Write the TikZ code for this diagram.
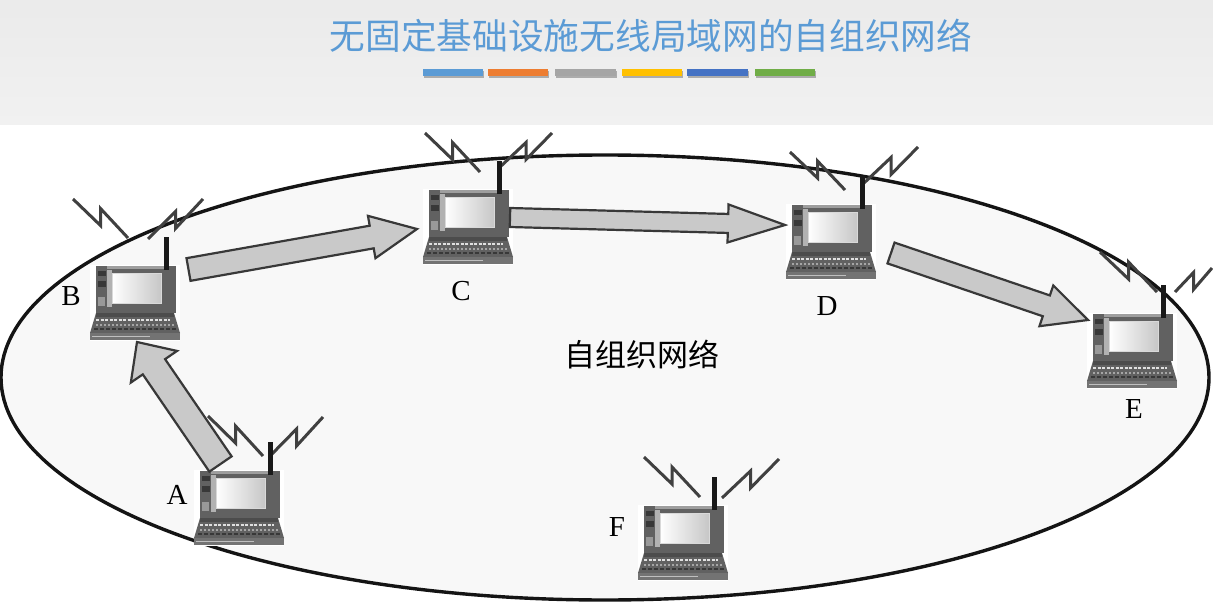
\documentclass[tikz,border=0pt]{standalone}
\usepackage{fontspec}
\setmainfont{Liberation Serif}
\newfontfamily\cjkfont{Noto Sans CJK SC}
\usetikzlibrary{calc}
\definecolor{titleblue}{HTML}{5B9BD5}
\definecolor{barorange}{HTML}{ED7D31}
\definecolor{bargray}{HTML}{A5A5A5}
\definecolor{baryellow}{HTML}{FFC000}
\definecolor{bardeep}{HTML}{4472C4}
\definecolor{bargreen}{HTML}{70AD47}
\definecolor{netfill}{HTML}{F8F8F8}
\tikzset{
  lapnode/.style={rectangle,fill=white,inner sep=0pt,outer sep=0pt,minimum width=90pt,minimum height=76pt,anchor=north west},
  zig/.style={draw=black!75,line width=3pt,line join=miter},
  antenna/.style={draw=black!90,line width=5pt},
  blockarrow/.style={draw=black!78,fill=black!21,line width=2.2pt,line join=miter},
  barshadow/.style={fill=black!50,opacity=.6},
  letter/.style={font=\fontsize{29}{30}\selectfont,inner sep=0pt},
  netshape/.style={draw=black!92,fill=netfill,line width=3.4pt},
}
\newcommand\laptop[6]{%
  \node[lapnode] (#1) at #2 {};
  \begin{scope}[shift={(#1.north west)}]
    \fill[black!62] (6,1) rectangle (86,48);
    \fill[black!62] (6,48) -- (84,48) -- (90,68) -- (0,68) -- cycle;
    \fill[black!70] (6,48) rectangle (84,52);
    \fill[black!55] (0,68) rectangle (90,75);
    \fill[black!25] (2,71) rectangle (60,72);
    \fill[black!78] (8,6) rectangle (16,11);
    \fill[black!78] (8,16) rectangle (16,22);
    \fill[black!40] (8,32) rectangle (15,41);
    \fill[black!30] (17,5) rectangle (22,42);
    \fill[black!38] (17,1) rectangle (75,4);
    \shade[left color=white,right color=black!22,draw=black!15] (22,8) rectangle (71,38);
    \draw[black!12,line width=1.6pt,dash pattern=on 3pt off 1.5pt] (6,55) -- (80,55);
    \draw[black!35,line width=1.3pt,dash pattern=on 2pt off 2pt] (6,60) -- (84,60);
    \draw[black!78,line width=1.3pt,dash pattern=on 4pt off 2pt] (4,64) -- (86,64);
    \draw[zig] #3 -- ($#3!.5!#4+(0,7)$) -- ($#3!.5!#4+(0,-10)$) -- #4;
    \draw[zig] #5 -- ($#5!.5!#6+(0,-7.5)$) -- ($#5!.5!#6+(0,9.5)$) -- #6;
    \draw[antenna] (76,-28) -- (76,5);
  \end{scope}%
}
% tail, tip, shaft half width, head half width, head length
\newcommand\flowarrow[5]{%
  \coordinate (hb) at ($(#2)!#5!(#1)$);
  \draw[blockarrow]
    ($(#1)!#3!90:(#2)$) -- ($(hb)!#3!90:(#2)$) -- ($(hb)!#4!90:(#2)$) -- (#2)
    -- ($(hb)!#4!-90:(#2)$) -- ($(hb)!#3!-90:(#2)$) -- ($(#1)!#3!-90:(#2)$) -- cycle;
}
\begin{document}
\begin{tikzpicture}[x=1pt,y=-1pt]
\useasboundingbox (0,0) rectangle (1213,607);
\fill[white] (0,0) rectangle (1213,607);
\shade[top color=black!8,bottom color=black!5.5] (0,0) rectangle (1213,125);
\node[text=titleblue,font=\cjkfont\fontsize{35.7}{37}\selectfont,inner sep=0pt] (title) at (651,36) {无固定基础设施无线局域网的自组织网络};
\foreach \xa/\xb in {423/483,488/548,555/616,622/682,687/748,755/815}
  \fill[barshadow] (\xa+1,71) rectangle (\xb+1,78);
\fill[titleblue] (423,69) rectangle (483,76);
\fill[barorange] (488,69) rectangle (548,76);
\fill[bargray] (555,69) rectangle (616,76);
\fill[baryellow] (622,69) rectangle (682,76);
\fill[bardeep] (687,69) rectangle (748,76);
\fill[bargreen] (755,69) rectangle (815,76);

\draw[netshape] (605,377.5) ellipse [x radius=604pt,y radius=222.5pt];

\laptop{lapA}{(194,470)}{(14,-54)}{(69,-14)}{(76,-14)}{(129,-53)}
\laptop{lapB}{(90,265)}{(-17,-66)}{(38,-27)}{(58,-26)}{(113,-66)}
\laptop{lapC}{(423,189)}{(2,-56)}{(57,-17)}{(77,-22)}{(129,-56)}
\laptop{lapD}{(786,204)}{(4,-52)}{(59,-14)}{(78,-21)}{(132,-57)}
\laptop{lapE}{(1087,313)}{(13,-61)}{(70,-21)}{(88,-21)}{(125,-45)}
\laptop{lapF}{(638,505)}{(6,-48)}{(62,-8)}{(84,-7)}{(141,-46)}

\coordinate (abTail) at ($(lapA.north west)+(26.5,-6)$);
\coordinate (abTip)  at ($(lapB.south west)+(47,1)$);
\coordinate (bcTail) at ($(lapB.north east)+(8.5,4.5)$);
\coordinate (bcTip)  at ($(lapC.west)+(-6,2)$);
\coordinate (cdTail) at ($(lapC.north east)+(-3,28.5)$);
\coordinate (cdTip)  at ($(lapD.north west)+(-1,21)$);
\coordinate (deTail) at ($(lapD.north east)+(15,49)$);
\coordinate (deTip)  at ($(lapE.west)+(1,-31)$);
\flowarrow{abTail}{abTip}{13.5pt}{28pt}{30pt}
\flowarrow{bcTail}{bcTip}{11.5pt}{21.5pt}{46pt}
\flowarrow{cdTail}{cdTip}{9.5pt}{19pt}{57pt}
\flowarrow{deTail}{deTip}{11pt}{21.5pt}{44pt}

\node[letter] (labA) at (177,495) {A};
\node[letter] (labB) at (71,296) {B};
\node[letter] (labC) at (461,291) {C};
\node[letter] (labD) at (827,306) {D};
\node[letter] (labE) at (1134,409) {E};
\node[letter] (labF) at (617,527) {F};
\node[font=\cjkfont\fontsize{31}{33}\selectfont,inner sep=0pt] (netlabel) at (642,355) {自组织网络};
\end{tikzpicture}
\end{document}
